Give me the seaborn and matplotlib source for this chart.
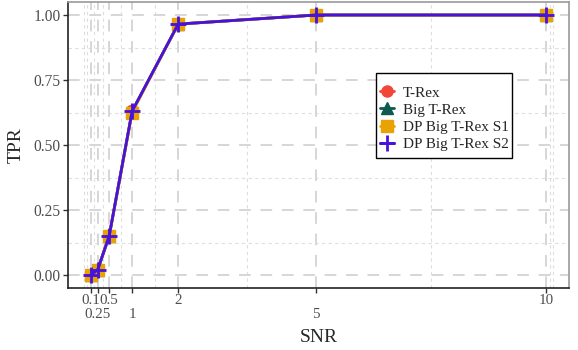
import numpy as np
import pandas as pd
import matplotlib
matplotlib.use("Agg")
import matplotlib.pyplot as plt
import seaborn as sns
from matplotlib.lines import Line2D
from matplotlib.patches import Rectangle

snr = [0.1, 0.25, 0.5, 1, 2, 5, 10]
tpr_trex = [0.0, 0.02, 0.15, 0.63, 0.965, 1.0, 1.0]
tpr_big = [0.0, 0.02, 0.15, 0.63, 0.965, 1.0, 1.0]
tpr_s1 = [0.0, 0.02, 0.15, 0.625, 0.965, 1.0, 1.0]
tpr_s2 = [0.0, 0.02, 0.15, 0.63, 0.965, 1.0, 1.0]
methods = ["T-Rex", "Big T-Rex", "DP Big T-Rex S1", "DP Big T-Rex S2"]
x_tick_labels = ["0.1", "\n0.25", "0.5", "\n1", "2", "\n5", "10"]
y_ticks = [0.0, 0.25, 0.5, 0.75, 1.0]

colors = {"T-Rex": "#F2463A", "Big T-Rex": "#0E5A4E",
          "DP Big T-Rex S1": "#E8A202", "DP Big T-Rex S2": "#4712DC"}
markers = {"T-Rex": "o", "Big T-Rex": "^", "DP Big T-Rex S1": "s", "DP Big T-Rex S2": "+"}
msizes = {"T-Rex": 9, "Big T-Rex": 9, "DP Big T-Rex S1": 9, "DP Big T-Rex S2": 12}

df = pd.DataFrame({
    "SNR": snr * 4,
    "TPR": tpr_trex + tpr_big + tpr_s1 + tpr_s2,
    "Method": sum([[m] * len(snr) for m in methods], []),
})

sns.set_theme(style="white")
plt.rcParams["font.family"] = ["Liberation Serif", "DejaVu Serif"]

W, H = 578, 350
fig = plt.figure(figsize=(W / 100, H / 100), dpi=100)
ax = fig.add_axes([68 / W, 62 / H, (569 - 68) / W, (288 - 2) / H])

# grid
xmin, xmax = 0.1 - 0.495, 10 + 0.495
ymin, ymax = -0.05, 1.05
x_minor = [-0.05, 0.025, 0.175, 0.375, 0.75, 1.5, 3.5, 7.5, 10.075, 10.15]
y_minor = [0.125, 0.375, 0.625, 0.875]
for v in x_minor:
    ax.axvline(v, color="#DEDEDE", lw=0.8, ls=(0, (3, 3)), zorder=0)
for v in y_minor:
    ax.axhline(v, color="#DEDEDE", lw=0.8, ls=(0, (3, 3)), zorder=0)
for v in snr:
    ax.axvline(v, color="#D6D6D6", lw=1.4, ls=(0, (6, 5)), zorder=0)
for v in y_ticks:
    ax.axhline(v, color="#D6D6D6", lw=1.4, ls=(0, (6, 5)), zorder=0)

# points first, then lines
for m in methods[:3]:
    d = df[df.Method == m]
    ax.plot(d.SNR, d.TPR, ls="none", marker=markers[m], ms=msizes[m],
            color=colors[m], zorder=3)
for m in methods:
    d = df[df.Method == m]
    sns.lineplot(data=d, x="SNR", y="TPR", color=colors[m], lw=2.0, ax=ax,
                 legend=False, zorder=4)
d = df[df.Method == methods[3]]
ax.plot(d.SNR, d.TPR, ls="none", marker="+", ms=12, mew=2, color=colors[methods[3]], zorder=5)

ax.set_xlim(xmin, xmax)
ax.set_ylim(ymin, ymax)
ax.set_xticks(snr)
ax.set_xticklabels(x_tick_labels, linespacing=1.12)
ax.set_yticks(y_ticks)
ax.set_yticklabels(["0.00", "0.25", "0.50", "0.75", "1.00"])
ax.tick_params(axis="both", which="major", length=3.5, width=1, color="#333333",
               labelcolor="#4D4D4D", direction="out", bottom=True, left=True)
ax.tick_params(axis="x", pad=0.5, labelsize=10.8)
ax.tick_params(axis="y", pad=2, labelsize=11.2)
ax.set_xlabel("SNR", fontsize=14, labelpad=6)
ax.set_ylabel("TPR", fontsize=14, labelpad=6)

for s in ["top", "right"]:
    ax.spines[s].set_color("#9A9A9A")
    ax.spines[s].set_linewidth(1.2)
for s in ["left", "bottom"]:
    ax.spines[s].set_color("#222222")
    ax.spines[s].set_linewidth(1.2)

# legend box
box = Rectangle((376 / W, 1 - 158 / H), 136 / W, 85 / H, transform=fig.transFigure,
                facecolor="white", edgecolor="black", lw=1.0, zorder=6, clip_on=False)
ax.add_patch(box)

handles = []
for m in methods:
    if m == "DP Big T-Rex S2":
        h = Line2D([], [], color=colors[m], marker="+", ms=12, mew=2, lw=2)
    else:
        h = Line2D([], [], color=colors[m], marker=markers[m], ms=8, lw=2)
    handles.append(h)
leg = ax.legend(handles, methods, loc="center left",
                bbox_to_anchor=(380 / W, 1 - 118.5 / H), bbox_transform=fig.transFigure,
                frameon=False, fontsize=11,
                handlelength=0.9, handletextpad=0.6, labelspacing=0.22,
                borderpad=0, borderaxespad=0)
leg.set_zorder(7)

fig.savefig("out.png", dpi=100)
